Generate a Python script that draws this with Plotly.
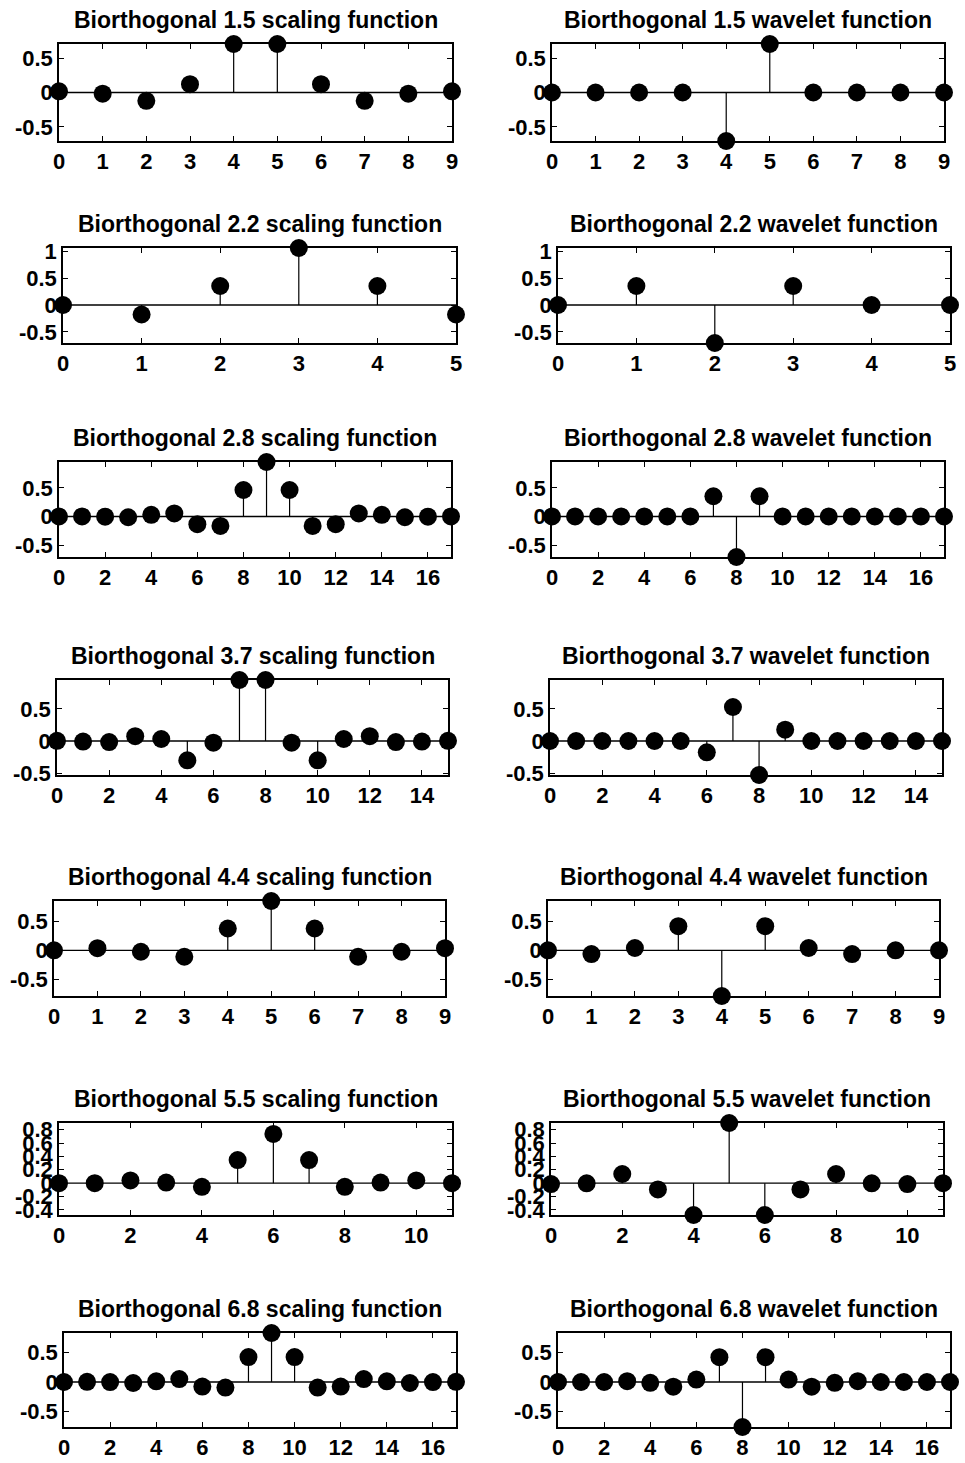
import plotly.graph_objects as go

# ---------------- data (filter coefficients) ----------------
bior15_scaling = [0.0166, -0.0166, -0.1215, 0.1215, 0.7071, 0.7071, 0.1215, -0.1215, -0.0166, 0.0166]
bior15_wavelet = [0, 0, 0, 0, -0.7071, 0.7071, 0, 0, 0, 0]

bior22_scaling = [0, -0.1768, 0.3536, 1.0607, 0.3536, -0.1768]
bior22_wavelet = [0, 0.3536, -0.7071, 0.3536, 0, 0]

bior28_scaling = [0, 0.0015, -0.0030, -0.0129, 0.0289, 0.0530, -0.1349, -0.1638, 0.4626,
                  0.9516, 0.4626, -0.1638, -0.1349, 0.0530, 0.0289, -0.0129, -0.0030, 0.0015]
bior28_wavelet = [0, 0, 0, 0, 0, 0, 0, 0.3536, -0.7071, 0.3536, 0, 0, 0, 0, 0, 0, 0, 0]

bior37_scaling = [0.0030, -0.0091, -0.0168, 0.0747, 0.0313, -0.3012, -0.0265, 0.9516,
                  0.9516, -0.0265, -0.3012, 0.0313, 0.0747, -0.0168, -0.0091, 0.0030]
bior37_wavelet = [0, 0, 0, 0, 0, 0, -0.1768, 0.5303, -0.5303, 0.1768, 0, 0, 0, 0, 0, 0]

bior44_scaling = [0, 0.0378, -0.0238, -0.1106, 0.3774, 0.8527, 0.3774, -0.1106, -0.0238, 0.0378]
bior44_wavelet = [0, -0.0645, 0.0407, 0.4181, -0.7885, 0.4181, 0.0407, -0.0645, 0, 0]

bior55_scaling = [0, 0, 0.0397, 0.0079, -0.0545, 0.3456, 0.7367, 0.3456, -0.0545, 0.0079, 0.0397, 0]
bior55_wavelet = [-0.0135, -0.0027, 0.1367, -0.0935, -0.4768, 0.8995, -0.4768, -0.0935, 0.1367,
                  -0.0027, -0.0135, 0]

bior68_scaling = [0, 0.0019, -0.0019, -0.0170, 0.0119, 0.0497, -0.0773, -0.0941, 0.4208,
                  0.8259, 0.4208, -0.0941, -0.0773, 0.0497, 0.0119, -0.0170, -0.0019, 0.0019]
bior68_wavelet = [0, 0, 0, 0.0144, -0.0145, -0.0787, 0.0404, 0.4178, -0.7589, 0.4178, 0.0404,
                  -0.0787, -0.0145, 0.0144, 0, 0, 0, 0]

wavelet_names = ["1.5", "2.2", "2.8", "3.7", "4.4", "5.5", "6.8"]
scaling_series = [bior15_scaling, bior22_scaling, bior28_scaling, bior37_scaling,
                  bior44_scaling, bior55_scaling, bior68_scaling]
wavelet_series = [bior15_wavelet, bior22_wavelet, bior28_wavelet, bior37_wavelet,
                  bior44_wavelet, bior55_wavelet, bior68_wavelet]

# y tick labels per row
ytick_vals = [
    [-0.5, 0, 0.5],
    [-0.5, 0, 0.5, 1],
    [-0.5, 0, 0.5],
    [-0.5, 0, 0.5],
    [-0.5, 0, 0.5],
    [-0.4, -0.2, 0, 0.2, 0.4, 0.6, 0.8],
    [-0.5, 0, 0.5],
]
ytick_text = [
    ["-0.5", "0", "0.5"],
    ["-0.5", "0", "0.5", "1"],
    ["-0.5", "0", "0.5"],
    ["-0.5", "0", "0.5"],
    ["-0.5", "0", "0.5"],
    ["-0.4", "-0.2", "0", "0.2", "0.4", "0.6", "0.8"],
    ["-0.5", "0", "0.5"],
]
xtick_step = [1, 1, 2, 2, 1, 2, 2]

# ---------------- layout (pixel boxes of each panel) ----------------
W, H = 965, 1463
left_x = [(59, 452), (63, 456), (59, 451), (57, 448), (54, 445), (59, 452), (64, 456)]
right_x = [(552, 944), (558, 950), (552, 944), (550, 942), (548, 939), (551, 943), (558, 950)]
rows_y = [(44, 141), (248, 343), (462, 557), (680, 775), (901, 996), (1123, 1215), (1333, 1427)]

FAMILY = "Liberation Sans, Arial, sans-serif"
TICKFONT = dict(family=FAMILY, color="black", size=22, weight="bold")
TITLEFONT = dict(family=FAMILY, color="black", size=23, weight="bold")

fig = go.Figure()
layout = dict(
    template="none",
    width=W, height=H, margin=dict(l=0, r=0, t=0, b=0, pad=0), autosize=False,
    paper_bgcolor="white", plot_bgcolor="white", showlegend=False,
    font=TICKFONT,
)
annotations = []

panel = 0
for r in range(7):
    ymin = min(min(scaling_series[r]), min(wavelet_series[r]))
    ymax = max(max(scaling_series[r]), max(wavelet_series[r]))
    for c, (series, kind, xs_px) in enumerate([(scaling_series[r], "scaling", left_x[r]),
                                               (wavelet_series[r], "wavelet", right_x[r])]):
        panel += 1
        xa = "x" if panel == 1 else f"x{panel}"
        ya = "y" if panel == 1 else f"y{panel}"
        xkey = "xaxis" if panel == 1 else f"xaxis{panel}"
        ykey = "yaxis" if panel == 1 else f"yaxis{panel}"
        n = len(series)
        idx = list(range(n))

        # stems
        sx, sy = [], []
        for i, v in zip(idx, series):
            sx += [i, i, None]
            sy += [0, v, None]
        fig.add_trace(go.Scatter(x=sx, y=sy, mode="lines", xaxis=xa, yaxis=ya,
                                 line=dict(color="black", width=1.2), hoverinfo="skip",
                                 cliponaxis=False))
        # baseline
        fig.add_trace(go.Scatter(x=[0, n - 1], y=[0, 0], mode="lines", xaxis=xa, yaxis=ya,
                                 line=dict(color="black", width=1.3), hoverinfo="skip",
                                 cliponaxis=False))
        # markers
        fig.add_trace(go.Scatter(x=idx, y=series, mode="markers", xaxis=xa, yaxis=ya,
                                 marker=dict(color="black", size=18, line=dict(width=0)),
                                 cliponaxis=False))

        x0, x1 = xs_px
        ytop, ybot = rows_y[r]
        common = dict(
            ticks="inside", ticklen=5, tickwidth=1, tickcolor="black",
            showline=True, linecolor="black", linewidth=1.5, mirror="ticks",
            showgrid=False, zeroline=False, tickfont=TICKFONT, automargin=False,
            fixedrange=True, layer="below traces",
        )
        layout[xkey] = dict(
            domain=[x0 / W, x1 / W], anchor=ya, range=[0, n - 1],
            tickmode="array", tickvals=list(range(0, n, xtick_step[r])),
            ticktext=[str(v) for v in range(0, n, xtick_step[r])],
            **common,
        )
        layout[ykey] = dict(
            domain=[1 - ybot / H, 1 - ytop / H], anchor=xa, range=[ymin, ymax],
            tickmode="array", tickvals=ytick_vals[r], ticktext=ytick_text[r],
            **common,
        )
        annotations.append(dict(
            text=f"Biorthogonal {wavelet_names[r]} {kind} function",
            x=(x0 + x1) / 2 / W, y=1 - (ytop - 24) / H, xref="paper", yref="paper",
            xanchor="center", yanchor="middle", showarrow=False,
            font=TITLEFONT,
        ))

layout["annotations"] = annotations
fig.update_layout(**layout)

fig.write_html("out.html", config={"displayModeBar": False},
               post_script="document.body.style.margin='0';")
